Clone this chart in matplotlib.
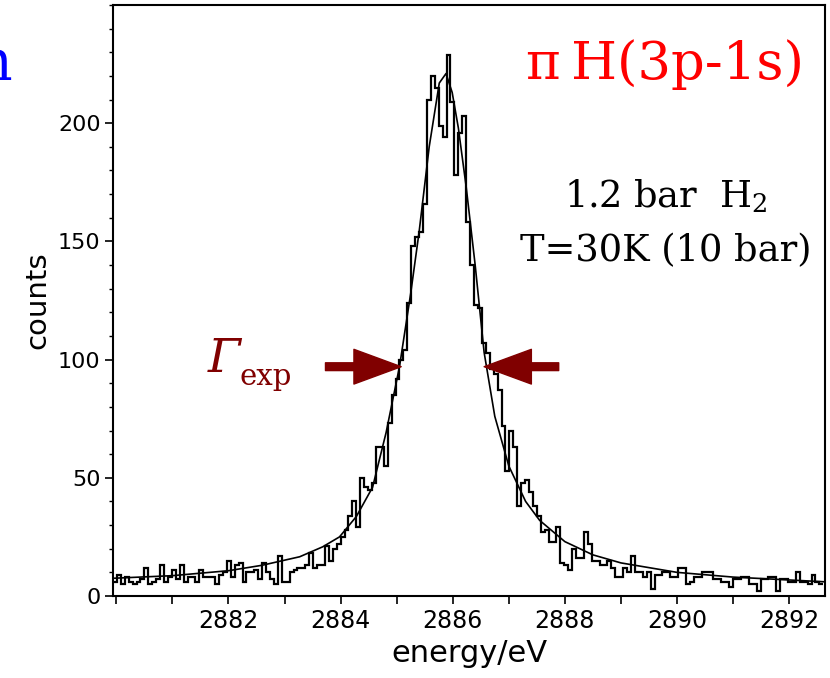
import matplotlib
matplotlib.use("Agg")
import matplotlib.pyplot as plt
import numpy as np

# histogram: first bin edge and bin width (eV), counts per bin
x_start = 2879.94
bin_w = 0.07
counts = [
    6, 9, 5, 8, 6, 5, 6, 7, 12, 5,
    6, 7, 13, 6, 8, 11, 7, 13, 6, 8,
    8, 6, 11, 8, 8, 8, 5, 9, 10, 15,
    8, 13, 14, 6, 10, 10, 11, 7, 14, 10,
    7, 5, 17, 6, 6, 10, 11, 12, 12, 13,
    18, 12, 13, 13, 21, 15, 20, 22, 25, 28,
    34, 40, 29, 50, 46, 45, 48, 63, 63, 55,
    73, 85, 92, 100, 104, 124, 148, 152, 154, 166,
    210, 220, 215, 199, 194, 229, 209, 178, 196, 203,
    158, 140, 123, 122, 107, 103, 96, 94, 87, 72,
    53, 70, 63, 38, 48, 49, 44, 38, 34, 27,
    28, 23, 23, 29, 14, 13, 11, 20, 16, 16,
    27, 22, 15, 15, 13, 13, 15, 12, 8, 8,
    12, 10, 17, 10, 10, 8, 10, 3, 9, 9,
    10, 10, 8, 8, 12, 12, 5, 6, 8, 8,
    10, 10, 10, 7, 7, 6, 6, 4, 7, 7,
    8, 8, 5, 5, 2, 7, 7, 8, 8, 2,
    7, 7, 6, 6, 10, 6, 6, 5, 9, 6,
    5,
]

# fitted line shape
fit_x = [2879.94, 2881.0, 2882.0, 2882.6, 2883.27, 2883.68, 2883.98, 2884.28,
         2884.57, 2884.81, 2885.05, 2885.25, 2885.40, 2885.58, 2885.76, 2885.88,
         2885.99, 2886.1, 2886.24, 2886.4, 2886.56, 2886.75, 2887.0, 2887.3,
         2887.55, 2888.0, 2888.5, 2889.0, 2890.0, 2891.0, 2892.64]
fit_y = [7.5, 8.6, 10.7, 13, 16.6, 20.8, 25, 33.6,
         46, 69, 97, 128, 154, 190, 217, 221,
         213, 198, 173, 140, 103, 76, 55, 40,
         32, 23, 17.4, 14, 10, 8, 6]

x_ticks = list(range(2880, 2893))
x_labels = ["" if (t % 2 or t == 2880) else str(t) for t in x_ticks]
y_ticks = [0, 50, 100, 150, 200]

# FWHM arrows (tail, tip) at this height
arrow_y = 97
arrow_left = (2883.73, 2885.08)
arrow_right = (2887.89, 2886.56)

plt.rcParams['mathtext.fontset'] = 'dejavuserif'
tick_font = ['Liberation Sans Narrow', 'DejaVu Sans']

fig = plt.figure(figsize=(8.3, 6.78), dpi=100)
ax = fig.add_axes([113 / 830, 1 - 596 / 678, (825 - 113) / 830, (596 - 5) / 678])

edges = x_start + bin_w * np.arange(len(counts) + 1)
ax.stairs(counts, edges, color='black', lw=1.6, baseline=None)
ax.plot(fit_x, fit_y, color='black', lw=1.2)

ax.set_xlim(x_start, 2892.64)
ax.set_ylim(0, 250)

ax.set_xticks(x_ticks)
ax.set_xticklabels(x_labels, family=tick_font, fontsize=17)
ax.set_yticks(y_ticks)
ax.set_yticklabels([str(v) for v in y_ticks], family=tick_font, fontsize=16)
ax.set_yticks(np.arange(0, 251, 10), minor=True)
ax.tick_params(axis='both', which='major', direction='out', length=6, width=1.2, pad=3)
ax.tick_params(axis='y', which='minor', direction='out', length=3, width=1.0)
for s in ax.spines.values():
    s.set_linewidth(1.5)

ax.set_xlabel('energy/eV', family=tick_font, fontsize=22, labelpad=5)
ax.set_ylabel('counts', family=tick_font, fontsize=21, labelpad=5)

for tail, tip in (arrow_left, arrow_right):
    ax.annotate('', xy=(tip, arrow_y), xytext=(tail, arrow_y),
                arrowprops=dict(arrowstyle='simple,head_width=1.25,head_length=1.7,tail_width=0.28',
                                mutation_scale=20, color='#800000', shrinkA=0, shrinkB=0))

ax.text(2892.27, 218.5, 'π\u2009H(3p-1s)', color='red', family='DejaVu Serif',
        fontsize=38, ha='right', va='baseline')
ax.text(2889.8, 164.5, r'1.2 bar  H$_2$', color='black', family='DejaVu Serif',
        fontsize=26.5, ha='center', va='baseline')
ax.text(2889.8, 141.5, 'T=30K (10 bar)', color='black', family='DejaVu Serif',
        fontsize=26.5, ha='center', va='baseline')
fig.text(208 / 830, 1 - 372 / 678, 'Γ', color='#800000', family='DejaVu Serif',
         style='italic', fontsize=34, ha='left', va='baseline')
fig.text(239 / 830, 1 - 385 / 678, 'exp', color='#800000', family='DejaVu Serif',
         fontsize=21, ha='left', va='baseline')
fig.text(13 / 830, 1 - 80 / 678, 'n', color='blue', family='DejaVu Serif',
         fontsize=40, ha='right', va='baseline')

fig.savefig('out.png', dpi=100)
